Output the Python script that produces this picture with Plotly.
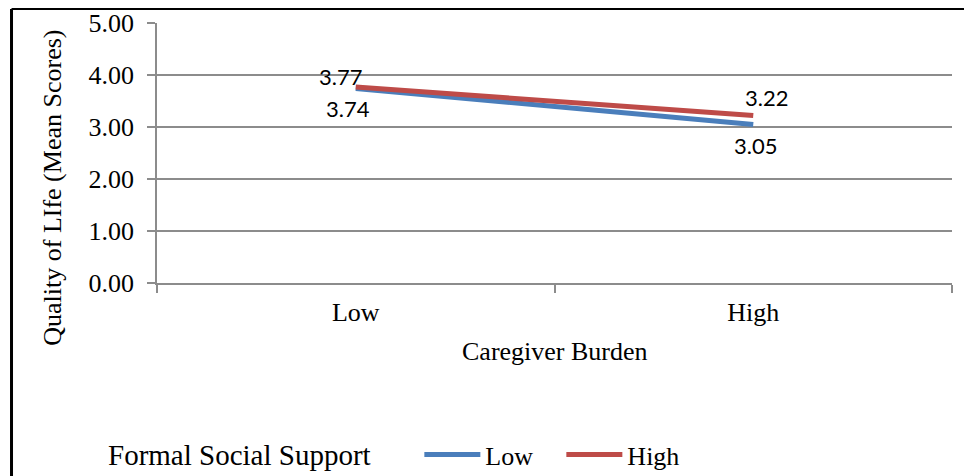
import plotly.graph_objects as go

categories = ["Low", "High"]
low_support = [3.74, 3.05]
high_support = [3.77, 3.22]
series_names = ["Low", "High"]
y_ticks = [0, 1, 2, 3, 4, 5]

BLUE = "#4a7ebb"
RED = "#be4b48"
GRID = "#8c8c8c"
SERIF = "Liberation Serif, Times New Roman, serif"
SANS = "Lato, Open Sans, sans-serif"

fig = go.Figure()
fig.add_trace(go.Scatter(x=categories, y=low_support, mode="lines", name=series_names[0],
                         line=dict(color=BLUE, width=5)))
fig.add_trace(go.Scatter(x=categories, y=high_support, mode="lines", name=series_names[1],
                         line=dict(color=RED, width=5)))

# data labels (offsets in px)
label_offsets_low = [(-8, -20), (2, -21)]
label_offsets_high = [(-15, 10), (13, 18)]
for vals, offs in ((low_support, label_offsets_low), (high_support, label_offsets_high)):
    for cat, v, (dx, dy) in zip(categories, vals, offs):
        fig.add_annotation(x=cat, y=v, text=f"{v:.2f}", showarrow=False,
                           xshift=dx, yshift=dy, font=dict(family=SANS, size=22, color="black"))

# axis titles
fig.add_annotation(xref="paper", yref="paper", x=-0.1325, y=0.365, text="Quality of LIfe (Mean Scores)",
                   textangle=-90, showarrow=False, xanchor="center", yanchor="middle",
                   font=dict(family=SERIF, size=26, color="black"))
fig.add_annotation(xref="paper", yref="paper", x=0.5, y=-0.262, text="Caregiver Burden",
                   showarrow=False, xanchor="center", yanchor="middle",
                   font=dict(family=SERIF, size=26, color="black"))
# legend title
fig.add_annotation(xref="paper", yref="paper", x=-0.0637, y=-0.66, text="Formal Social Support",
                   showarrow=False, xanchor="left", yanchor="middle",
                   font=dict(family=SERIF, size=29, color="black"))

# outer frame (left & top edges)
fig.add_shape(type="line", xref="paper", yref="paper", x0=-0.183, x1=1.05, y0=1.0538, y1=1.0538,
              line=dict(color="black", width=2))
fig.add_shape(type="line", xref="paper", yref="paper", x0=-0.183, x1=-0.183, y0=1.0538, y1=-0.8,
              line=dict(color="black", width=3))

fig.update_layout(
    width=964, height=468,
    margin=dict(l=149, r=20, t=15, b=193, autoexpand=False),
    paper_bgcolor="white", plot_bgcolor="white",
    font=dict(family=SERIF, size=26, color="black"),
    showlegend=True,
    legend=dict(orientation="h", x=0.330, y=-0.66, xanchor="left", yanchor="middle",
                font=dict(family=SERIF, size=26, color="black"), itemwidth=56,
                entrywidth=71, entrywidthmode="pixels",
                bgcolor="rgba(0,0,0,0)"),
)
fig.update_xaxes(type="category", range=[-0.5, 1.5], showline=True, linecolor=GRID, linewidth=1.5,
                 ticks="outside", tickson="boundaries", ticklen=8, tickcolor=GRID, tickwidth=1.5,
                 ticklabelstandoff=5,
                 showgrid=False, tickfont=dict(family=SERIF, size=26))
fig.update_yaxes(range=[0, 5], tickvals=y_ticks, tickformat=".2f", showline=True, linecolor=GRID,
                 linewidth=1.5, ticks="outside", ticklen=8, tickcolor=GRID, tickwidth=1.5,
                 ticklabelstandoff=8,
                 showgrid=True, gridcolor=GRID, gridwidth=1.5, zeroline=False,
                 tickfont=dict(family=SERIF, size=26))

fig.write_html("out.html")
